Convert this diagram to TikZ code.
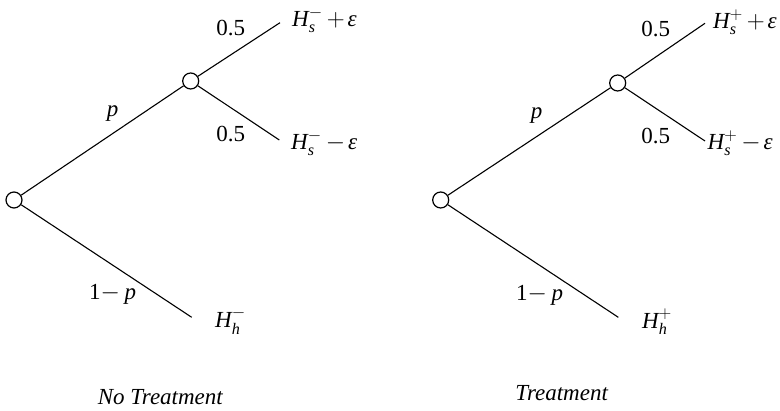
\documentclass[tikz,border=0pt]{standalone}
\usepackage{amsmath}
\usepackage{fontspec}
\setmainfont{Liberation Serif}
\newcommand{\Hx}[2]{\text{\itshape H}^{#2}_{\text{\itshape #1}}}
\newcommand{\eps}{\text{\itshape ε}}
\newcommand{\tail}[1]{\mkern3mu{#1}\mkern2mu\eps}
\tikzset{
  chance/.style={circle,draw,line width=1.2pt,fill=white,minimum size=16pt,inner sep=0pt},
  branch/.style={line width=1.1pt},
  lbl/.style={inner sep=0pt,font=\fontsize{23}{27}\selectfont}
}
\begin{document}
\begin{tikzpicture}[x=1pt,y=-1pt]
\useasboundingbox (0,0) rectangle (780,411);
% ---- left tree
\coordinate (La) at (280,22.7);
\coordinate (Lb) at (279.3,140);
\coordinate (Lc) at (191.7,317.3);
\node[chance] (Lr) at (14,200) {};
\node[chance] (Lm) at (190.7,81) {};
\draw[branch] (Lr) -- (Lm);
\draw[branch] (Lm) -- (La);
\draw[branch] (Lm) -- (Lb);
\draw[branch] (Lr) -- (Lc);
\node[lbl,anchor=base] (Lq1) at (230.7,36) {0.5};
\node[lbl,anchor=base] (Lq2) at (230.7,141.7) {0.5};
\node[lbl,anchor=base] (Lp) at (112.5,116.7) {\itshape p};
\node[lbl,anchor=base west] (Lnp) at (89,300) {1$-$\hspace{0.2em}\itshape p};
\node[lbl,anchor=base west] (Lha) at (292,26.7) {$\Hx{s}{-}\tail{+}$};
\node[lbl,anchor=base west] (Lhb) at (291,149.3) {$\Hx{s}{-}\tail{-}$};
\node[lbl,anchor=base west] (Lhc) at (215,327.7) {$\Hx{h}{-}$};
\node[lbl,anchor=base] (Lt) at (160.3,405) {\itshape No Treatment};
% ---- right tree
\coordinate (Ra) at (705,23.3);
\coordinate (Rb) at (705,141);
\coordinate (Rc) at (618.3,317.3);
\node[chance] (Rr) at (440.7,200) {};
\node[chance] (Rm) at (617.7,83) {};
\draw[branch] (Rr) -- (Rm);
\draw[branch] (Rm) -- (Ra);
\draw[branch] (Rm) -- (Rb);
\draw[branch] (Rr) -- (Rc);
\node[lbl,anchor=base] (Rq1) at (655.8,37) {0.5};
\node[lbl,anchor=base] (Rq2) at (655.8,144) {0.5};
\node[lbl,anchor=base] (Rp) at (536.7,119) {\itshape p};
\node[lbl,anchor=base west] (Rnp) at (516,300.7) {1$-$\hspace{0.2em}\itshape p};
\node[lbl,anchor=base west] (Rha) at (713,28.3) {$\Hx{s}{+}\tail{+}$};
\node[lbl,anchor=base west] (Rhb) at (707.5,149.3) {$\Hx{s}{+}\tail{-}$};
\node[lbl,anchor=base west] (Rhc) at (642,328.3) {$\Hx{h}{+}$};
\node[lbl,anchor=base] (Rt) at (561.7,401) {\itshape Treatment};
\end{tikzpicture}
\end{document}
